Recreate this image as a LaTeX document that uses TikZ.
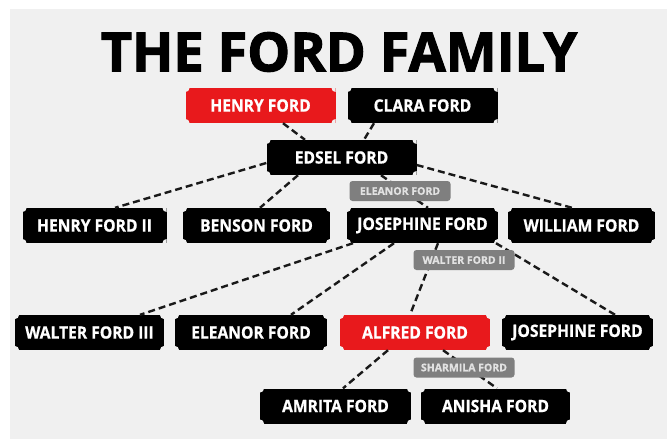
\documentclass[tikz,border=0pt]{standalone}
\usepackage{fontspec}
\setmainfont{Open Sans}
\newfontfamily\boxfont{Open Sans}[FakeStretch=0.92, BoldFeatures={FakeBold=0.8}]
\newfontfamily\heavyfont{Open Sans}[BoldFeatures={FakeBold=2}]
\newfontfamily\smallfont{Open Sans}[BoldFeatures={FakeBold=0.8}]
\definecolor{bggray}{HTML}{F0F0F0}
\definecolor{fordred}{HTML}{E8191C}
\definecolor{spousegray}{HTML}{7F7F7F}
\definecolor{spousetext}{HTML}{E2E2E2}

\begin{document}
\begin{tikzpicture}[x=1pt,y=-1pt,
  person/.style={fill=#1, text=white, inner sep=0pt,
    minimum width=150pt, minimum height=35pt,
    font=\boxfont\bfseries\fontsize{17}{17}\selectfont,
    path picture={\foreach \c in {north west,north east,south west,south east}
      \fill[bggray] (path picture bounding box.\c) circle (4pt);}},
  person/.default=black,
  spouse/.style={fill=spousegray, text=spousetext, rounded corners=3pt, inner sep=0pt,
    minimum width=101pt, minimum height=20pt,
    font=\smallfont\bfseries\fontsize{10.5}{10.5}\selectfont},
  link/.style={line width=2.4pt, dash pattern=on 7pt off 4pt, black!90}]
\useasboundingbox (0,0) rectangle (667,439);
\fill[white] (0,0) rectangle (667,439);
\fill[bggray] (10,9) rectangle (667,439);

\node[font=\heavyfont\bfseries\fontsize{54}{54}\selectfont] (title) at (339,52) {THE FORD FAMILY};

% parents
\node[person=fordred] (henry) at (260.5,105.5) {HENRY FORD};
\node[person] (clara) at (422.5,105.5) {CLARA FORD};
\node[person] (edsel) at (341.5,157.5) {EDSEL FORD};
% children of edsel
\node[person, minimum width=144pt] (henryii) at (94.5,225.5) {HENRY FORD II};
\node[person, minimum width=147pt] (benson) at (256.5,225.5) {BENSON FORD};
\node[person, minimum width=151pt] (josephine) at (422.5,225.5) {JOSEPHINE FORD};
\node[person, minimum width=147pt] (william) at (581.5,225.5) {WILLIAM FORD};
% children of josephine
\node[person, minimum width=149pt] (walteriii) at (89.5,332.5) {WALTER FORD III};
\node[person, minimum width=152pt] (eleanorb) at (251,332.5) {ELEANOR FORD};
\node[person=fordred, minimum width=150pt] (alfred) at (415,332.5) {ALFRED FORD};
\node[person, minimum width=151pt] (josephineb) at (577.5,332.5) {JOSEPHINE FORD};
% children of alfred
\node[person, minimum width=151pt] (amrita) at (335.5,406) {AMRITA FORD};
\node[person, minimum width=149pt] (anisha) at (495.5,406) {ANISHA FORD};

\draw[link] ([xshift=22.5pt]henry.south) -- ([xshift=-36.5pt]edsel.north);
\draw[link] ([xshift=-48.5pt]clara.south) -- ([xshift=22.5pt]edsel.north);
\draw[link] ([yshift=-5.5pt]edsel.west) -- ([xshift=20.5pt]henryii.north);
\draw[link] ([xshift=-43.5pt]edsel.south) -- ([xshift=3.5pt]benson.north);
\draw[link] ([xshift=39.5pt]edsel.south) -- ([xshift=5.5pt]josephine.north);
\draw[link] ([yshift=-7.5pt]edsel.east) -- ([xshift=-9.5pt]william.north);
\draw[link] ([xshift=-69.5pt]josephine.south) -- ([xshift=50.5pt]walteriii.north);
\draw[link] ([xshift=-28.5pt]josephine.south) -- ([xshift=40pt]eleanorb.north);
\draw[link] ([xshift=15.5pt]josephine.south) -- ([xshift=-5pt]alfred.north);
\draw[link] ([xshift=73.5pt]josephine.south) -- ([xshift=37.5pt]josephineb.north);
\draw[link] ([xshift=-27pt]alfred.south) -- ([xshift=7.5pt]amrita.north);
\draw[link] ([xshift=28pt]alfred.south) -- ([xshift=1.5pt]anisha.north);

% spouses sit on the lines
\node[spouse] (eleanor) at (400,191) {ELEANOR FORD};
\node[spouse] (walterii) at (464,260) {WALTER FORD II};
\node[spouse] (sharmila) at (464,367.5) {SHARMILA FORD};
\end{tikzpicture}
\end{document}
